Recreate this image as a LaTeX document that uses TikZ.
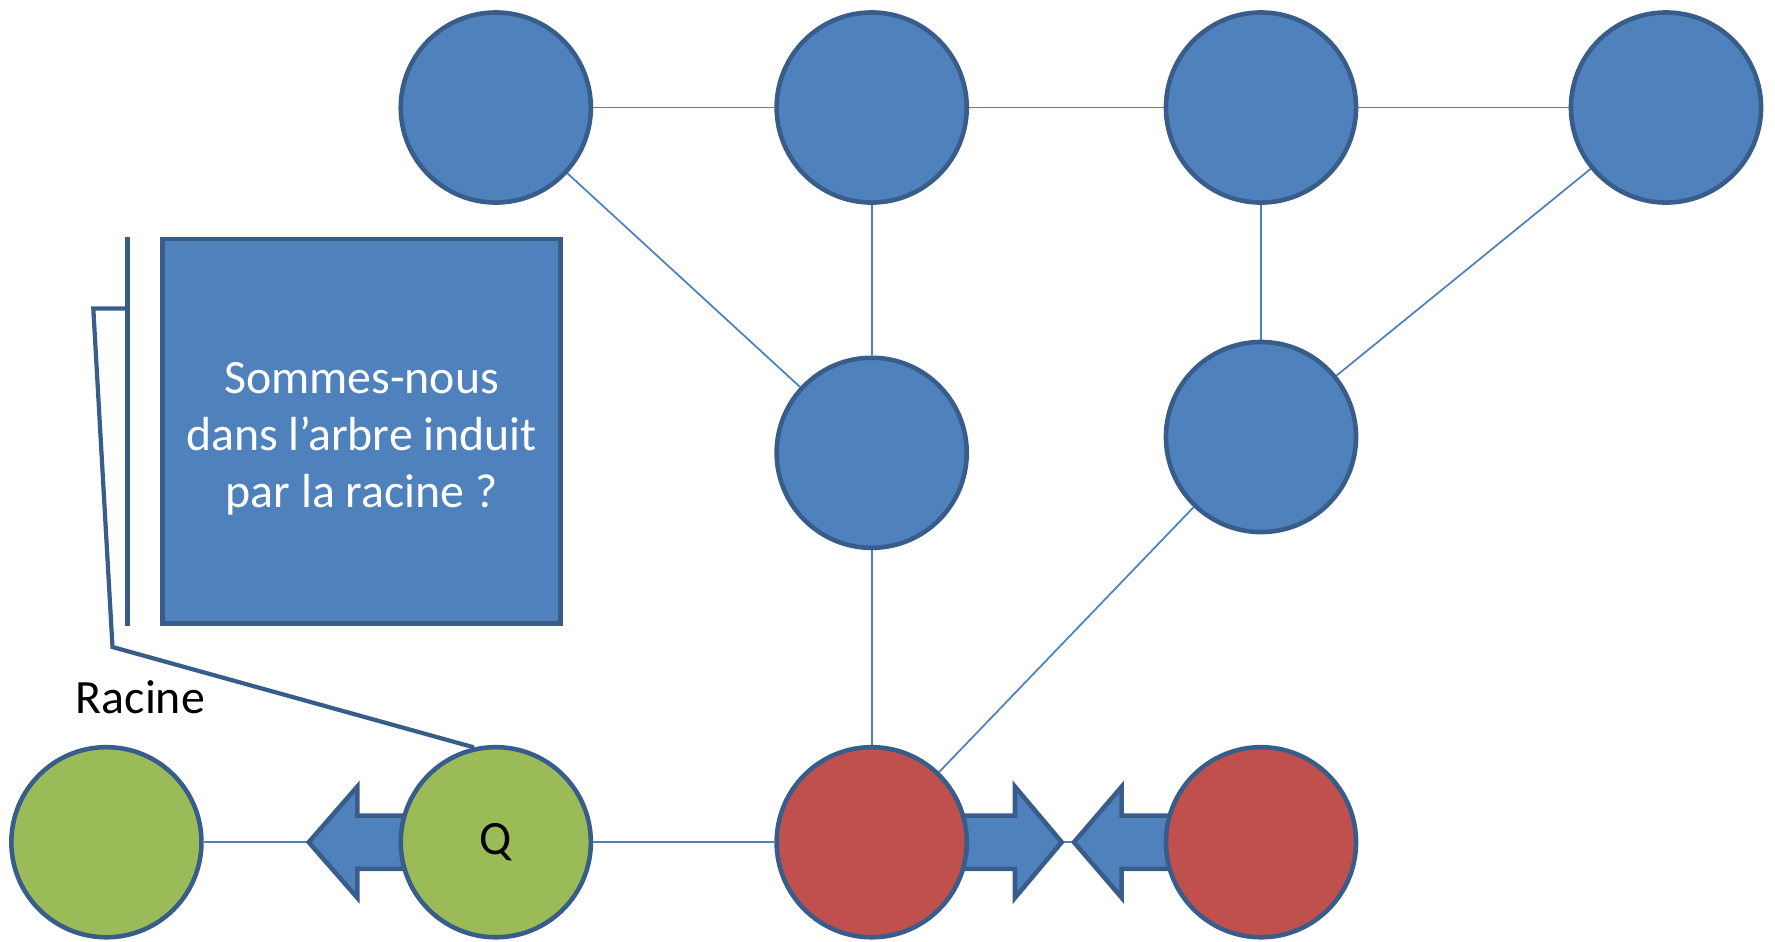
\documentclass[tikz,border=0pt]{standalone}
\usepackage{fontspec}
\setmainfont{Carlito}
\usepackage{xcolor}
\usetikzlibrary{arrows.meta, positioning, backgrounds, calc}

\definecolor{nodeblue}{HTML}{4F81BD}
\definecolor{nodeborder}{HTML}{385D8A}
\definecolor{nodegreen}{HTML}{9BBB59}
\definecolor{nodered}{HTML}{C0504D}

\begin{document}
\begin{tikzpicture}[
  x=0.01cm, y=-0.01cm,
  vertex/.style={circle, draw=nodeborder, line width=1.3pt,
    minimum size=1.90cm, inner sep=0pt,
    font=\fontsize{13.6}{16.2}\selectfont},
  bluev/.style={vertex, fill=nodeblue},
  greenv/.style={vertex, fill=nodegreen},
  redv/.style={vertex, fill=nodered},
  edge/.style={draw=nodeblue, line width=0.5pt},
  blockarr/.style={draw=nodeborder, fill=nodeblue, line width=1.3pt,
    line join=miter},
  callout/.style={draw=nodeborder, line width=1.2pt},
  notebox/.style={rectangle, draw=nodeborder, fill=nodeblue, line width=1.3pt,
    minimum width=3.975cm, minimum height=3.845cm, align=center,
    text=white, font=\fontsize{13.6}{16.2}\selectfont},
  lbl/.style={font=\fontsize{13.6}{16.2}\selectfont, inner sep=0pt},
]
\useasboundingbox (0,0) rectangle (1775,941);
% ====== GRAPH NODES ======
\node[bluev] (t1) at (495.8, 107.5) {};
\node[bluev] (t2) at (871.7, 107.5) {};
\node[bluev] (t3) at (1261, 107.5) {};
\node[bluev] (t4) at (1666, 107.5) {};
\node[bluev] (m1) at (871.7, 452.8) {};
\node[bluev] (m2) at (1261, 437) {};
\node[greenv] (g1) at (106.4, 842.2) {};
\node[greenv] (q) at (495.8, 842.2) {Q};
\node[redv] (r1) at (871.7, 842.2) {};
\node[redv] (r2) at (1261, 842.2) {};
%
% ====== CALLOUT ======
\node[notebox] (note) at (361.6, 431.3)
  {\rule{0pt}{13pt}Sommes-nous\\dans l’arbre induit\\par la racine ?};
\draw[callout] ($(note.north west)+(-33,0)$) -- ($(note.south west)+(-33,0)$);
\draw[callout] (127.5, 308.5) -- (93.3, 308.5) -- (112.5, 647) -- (q.103);
\node[lbl] (racine_lbl) at (140.4, 697.3) {Racine};
%
\begin{scope}[on background layer]
  % edges
  \draw[edge] (t1) -- (t2);
  \draw[edge] (t2) -- (t3);
  \draw[edge] (t3) -- (t4);
  \draw[edge] (t1) -- (m1);
  \draw[edge] (t2) -- (m1);
  \draw[edge] (t3) -- (m2);
  \draw[edge] (t4) -- (m2);
  \draw[edge] (m1) -- (r1);
  \draw[edge] (m2) -- (r1);
  \draw[edge] (g1) -- (q);
  \draw[edge] (q) -- (r1);
  \draw[edge] (r1) -- (r2);
  % block arrows
  \draw[blockarr] ($(q)+(-66,-26.6)$) -- ++(-72.5,0) -- ++(0,-28.9)
    -- ++(-48.5,55.5) -- ++(48.5,55.5) -- ++(0,-28.9) -- ++(72.5,0) -- cycle;
  \draw[blockarr] ($(r1)+(58,-26.6)$) -- ++(85.3,0) -- ++(0,-28.9)
    -- ++(46.7,55.5) -- ++(-46.7,55.5) -- ++(0,-28.9) -- ++(-85.3,0) -- cycle;
  \draw[blockarr] ($(r2)+(-61,-26.6)$) -- ++(-78.3,0) -- ++(0,-28.9)
    -- ++(-47.7,55.5) -- ++(47.7,55.5) -- ++(0,-28.9) -- ++(78.3,0) -- cycle;
\end{scope}
\end{tikzpicture}
\end{document}
